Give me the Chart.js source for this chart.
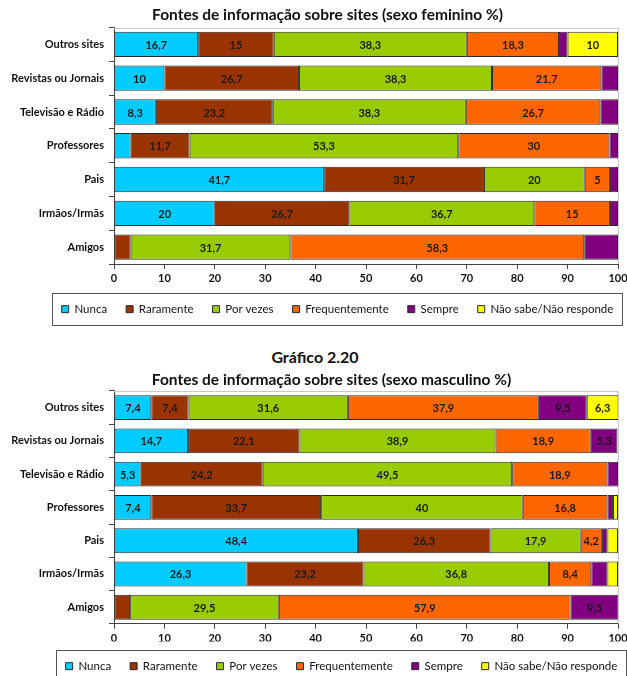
<!DOCTYPE html>
<html lang="pt">
<head>
<meta charset="utf-8">
<title>Fontes de informação sobre sites</title>
<script src="https://cdn.jsdelivr.net/npm/chart.js@4.4.1/dist/chart.umd.min.js"></script>
<style>
  html, body { margin: 0; padding: 0; background: #fff; overflow: hidden; }
  body { width: 627px; height: 676px; position: relative; }
  .box { position: absolute; left: 0; width: 627px; }
  #femBox { top: 0; height: 335px; }
  #mascBox { top: 360px; height: 330px; }
  #grafico {
    position: absolute; top: 347px; left: 0; width: 630px;
    text-align: center; font: bold 16px Lato, 'Open Sans', sans-serif;
    line-height: 20px; color: #111;
  }
</style>
</head>
<body>
<div class="box" id="femBox"><canvas id="femChart"></canvas></div>
<div id="grafico">Gráfico 2.20</div>
<div class="box" id="mascBox"><canvas id="mascChart"></canvas></div>

<script>
/* =====================================================
   Fontes de informação sobre sites
   Two stacked horizontal bar charts (feminino / masculino)
   ===================================================== */

const categories = ['Outros sites', 'Revistas ou Jornais', 'Televisão e Rádio', 'Professores', 'Pais', 'Irmãos/Irmãs', 'Amigos'];
const seriesNames = ['Nunca', 'Raramente', 'Por vezes', 'Frequentemente', 'Sempre', 'Não sabe/Não responde'];
const seriesColors = ['#00CCFF', '#993300', '#99CC00', '#FF6600', '#800080', '#FFFF00'];
const xTicks = [0, 10, 20, 30, 40, 50, 60, 70, 80, 90, 100];

// sexo feminino (%)
const femNunca = [16.7, 10, 8.3, 3.3, 41.7, 20, 0];
const femRaramente = [15, 26.7, 23.2, 11.7, 31.7, 26.7, 3.3];
const femPorVezes = [38.3, 38.3, 38.3, 53.3, 20, 36.7, 31.7];
const femFrequentemente = [18.3, 21.7, 26.7, 30, 5, 15, 58.3];
const femSempre = [1.7, 3.3, 3.5, 1.7, 1.6, 1.6, 6.7];
const femNaoSabe = [10, 0, 0, 0, 0, 0, 0];

// sexo masculino (%)
const mascNunca = [7.4, 14.7, 5.3, 7.4, 48.4, 26.3, 0];
const mascRaramente = [7.4, 22.1, 24.2, 33.7, 26.3, 23.2, 3.2];
const mascPorVezes = [31.6, 38.9, 49.5, 40, 17.9, 36.8, 29.5];
const mascFrequentemente = [37.9, 18.9, 18.9, 16.8, 4.2, 8.4, 57.9];
const mascSempre = [9.5, 5.3, 2.1, 1.1, 1.1, 3.2, 9.5];
const mascNaoSabe = [6.3, 0, 0, 1, 2.1, 2.1, 0];

Chart.defaults.font.family = "Lato, 'Open Sans', sans-serif";
Chart.defaults.color = '#111';

/* ===================================================
   Plugins: plot frame + legend border, value labels
   =================================================== */
const frameAndLegendBox = {
  id: 'frameAndLegendBox',
  // nudge title and legend sideways, like in the original sheet
  afterLayout(chart, args, opts) {
    const t = chart.titleBlock, lg = chart.legend;
    if (t) { t.left += opts.titleShift || 0; t.right += opts.titleShift || 0; }
    if (lg) { lg.left += opts.legendShift || 0; lg.right += opts.legendShift || 0; }
  },
  beforeDatasetsDraw(chart) {
    const { ctx, chartArea: a } = chart;
    ctx.save();
    ctx.strokeStyle = '#c8c8c8';
    ctx.lineWidth = 1;
    ctx.beginPath();
    ctx.moveTo(a.left, Math.round(a.top) + 0.5);
    ctx.lineTo(Math.round(a.right) + 0.5, Math.round(a.top) + 0.5);
    ctx.lineTo(Math.round(a.right) + 0.5, a.bottom);
    ctx.stroke();
    ctx.restore();
  },
  afterDraw(chart) {
    const boxes = chart.legend && chart.legend.legendHitBoxes;
    if (!boxes || !boxes.length) return;
    const { ctx } = chart;
    const left = Math.min(...boxes.map(b => b.left)) - 10;
    const right = Math.max(...boxes.map(b => b.left + b.width)) + 8;
    const cy = boxes[0].top + boxes[0].height / 2;
    ctx.save();
    ctx.strokeStyle = '#555';
    ctx.lineWidth = 1;
    ctx.strokeRect(Math.round(left) + 0.5, Math.round(cy - 16) + 0.5, Math.round(right - left), 32);
    ctx.restore();
  }
};

const barValueLabels = {
  id: 'barValueLabels',
  afterDatasetsDraw(chart, args, opts) {
    const { ctx } = chart;
    const skip = opts.skip || [];
    ctx.save();
    ctx.font = "bold 11px Lato, 'Open Sans', sans-serif";
    ctx.textAlign = 'center';
    ctx.textBaseline = 'middle';
    ctx.fillStyle = '#1a1a1a';
    chart.data.datasets.forEach((ds, i) => {
      if (skip.includes(i)) return;
      chart.getDatasetMeta(i).data.forEach((bar, j) => {
        const v = ds.data[j];
        if (!v || v < 4) return;
        ctx.fillText(String(v).replace('.', ','), (bar.x + bar.base) / 2, bar.y + 1);
      });
    });
    ctx.restore();
  }
};

/* ===================================================
   Chart builder
   =================================================== */
function buildChart(canvasId, title, rows, cfg) {
  new Chart(document.getElementById(canvasId), {
    type: 'bar',
    data: {
      labels: categories,
      datasets: rows.map((data, i) => ({
        label: seriesNames[i],
        data,
        backgroundColor: seriesColors[i],
        borderColor: '#2b2b2b',
        borderWidth: 1,
        borderSkipped: false,
        barPercentage: 0.75,
        categoryPercentage: 1
      }))
    },
    options: {
      indexAxis: 'y',
      responsive: true,
      maintainAspectRatio: false,
      animation: false,
      layout: { padding: { left: 0, right: 0, top: 0, bottom: cfg.padBottom } },
      plugins: {
        title: {
          display: true,
          text: title,
          color: '#111',
          font: { size: 15.5, weight: 'bold' },
          padding: cfg.titlePad
        },
        legend: {
          position: 'bottom',
          labels: { boxWidth: 7, boxHeight: 7, padding: 19, color: '#111', font: { size: 11.5 } }
        },
        tooltip: { enabled: false },
        barValueLabels: { skip: cfg.skip },
        frameAndLegendBox: { titleShift: cfg.titleShift, legendShift: cfg.legendShift }
      },
      scales: {
        x: {
          stacked: true,
          min: 0,
          max: 100,
          afterBuildTicks: (s) => { s.ticks = xTicks.map(v => ({ value: v })); },
          ticks: { color: '#111', font: { size: 11, weight: 'bold' }, padding: 3 },
          grid: { drawOnChartArea: false, tickLength: 5, color: '#444' },
          border: { color: '#444' },
          afterFit: (s) => { s.height = cfg.xHeight; s.paddingRight = 9; }
        },
        y: {
          stacked: true,
          ticks: { color: '#111', font: { size: 11, weight: 'bold' }, padding: 5 },
          grid: { drawOnChartArea: false, tickLength: 5, color: '#444' },
          border: { color: '#444' },
          afterFit: (s) => { s.width = 114; }
        }
      }
    },
    plugins: [frameAndLegendBox, barValueLabels]
  });
}

buildChart('femChart', 'Fontes de informação sobre sites (sexo feminino %)',
  [femNunca, femRaramente, femPorVezes, femFrequentemente, femSempre, femNaoSabe],
  { titlePad: { top: 5.7, bottom: 3.2 }, xHeight: 20.4, padBottom: 10.1, skip: [4], titleShift: 14, legendShift: 24 });

buildChart('mascChart', 'Fontes de informação sobre sites (sexo masculino %)',
  [mascNunca, mascRaramente, mascPorVezes, mascFrequentemente, mascSempre, mascNaoSabe],
  { titlePad: { top: 10.7, bottom: 1.7 }, xHeight: 17.6, padBottom: 8.1, skip: [], titleShift: 18, legendShift: 28 });
</script>
</body>
</html>
